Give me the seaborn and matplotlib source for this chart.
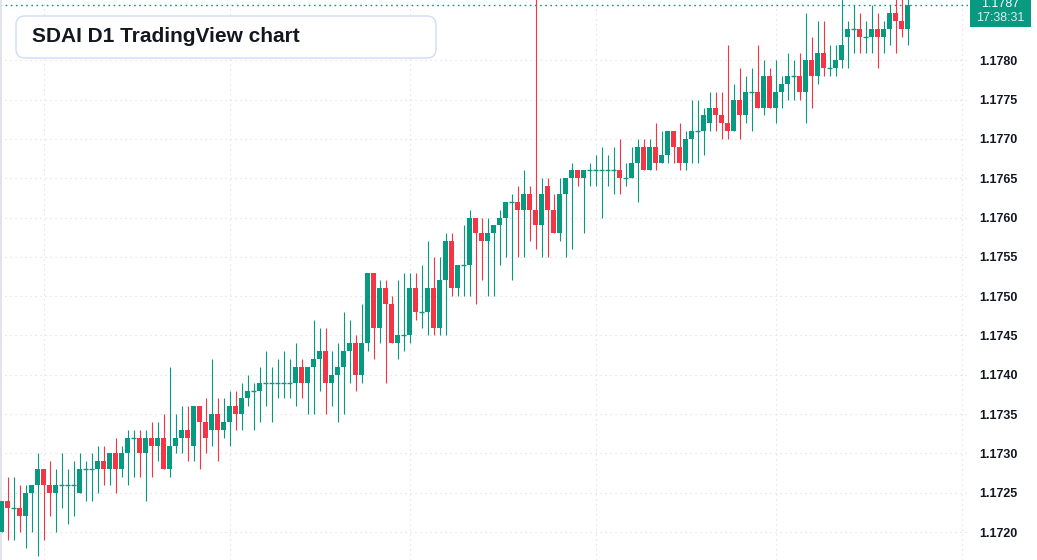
import numpy as np
import pandas as pd
import seaborn as sns
import matplotlib.pyplot as plt
from matplotlib.patches import FancyBboxPatch, Rectangle
from matplotlib.transforms import IdentityTransform

# daily candles, prices in pips (price * 10000)
open_pips = [
    11720, 11724, 11723, 11723, 11722, 11725, 11726, 11728, 11726, 11725,
    11726, 11726, 11726, 11725, 11728, 11728, 11728, 11729, 11728, 11730,
    11728, 11730, 11732, 11732, 11730, 11732, 11731, 11732, 11728, 11731,
    11732, 11733, 11731, 11736, 11734, 11733, 11735, 11733, 11734, 11736,
    11735, 11737, 11738, 11738, 11739, 11739, 11739, 11739, 11739, 11739,
    11741, 11739, 11741, 11742, 11743, 11739, 11740, 11741, 11743, 11744,
    11740, 11744, 11753, 11746, 11751, 11749, 11744, 11745, 11745, 11751,
    11748, 11748, 11751, 11746, 11752, 11757, 11751, 11754, 11754, 11760,
    11758, 11757, 11758, 11759, 11760, 11762, 11762, 11761, 11763, 11761,
    11759, 11764, 11761, 11758, 11763, 11765, 11766, 11765, 11766, 11766,
    11766, 11766, 11766, 11766, 11765, 11765, 11767, 11769, 11766, 11769,
    11767, 11768, 11771, 11769, 11767, 11770, 11771, 11771, 11772, 11774,
    11773, 11772, 11771, 11775, 11773, 11776, 11776, 11774, 11778, 11774,
    11776, 11777, 11778, 11778, 11776, 11780, 11778, 11781, 11779, 11779,
    11780, 11783, 11784, 11784, 11783, 11783, 11784, 11783, 11784, 11786,
    11785, 11784,
]
high_pips = [
    11724, 11727, 11727, 11726, 11726, 11726, 11730, 11728, 11729, 11728,
    11730, 11728, 11729, 11730, 11729, 11730, 11731, 11731, 11730, 11732,
    11731, 11733, 11733, 11733, 11733, 11734, 11734, 11735, 11741, 11735,
    11736, 11736, 11736, 11736, 11737, 11742, 11737, 11737, 11738, 11738,
    11739, 11740, 11739, 11741, 11743, 11741, 11742, 11743, 11742, 11744,
    11742, 11741, 11747, 11746, 11746, 11743, 11744, 11748, 11747, 11745,
    11749, 11753, 11753, 11752, 11752, 11750, 11752, 11753, 11753, 11753,
    11754, 11757, 11755, 11755, 11758, 11758, 11754, 11759, 11761, 11760,
    11760, 11760, 11759, 11761, 11762, 11763, 11764, 11766, 11764, 11800,
    11765, 11765, 11763, 11765, 11765, 11767, 11766, 11766, 11767, 11768,
    11769, 11768, 11769, 11770, 11767, 11769, 11770, 11770, 11770, 11772,
    11771, 11771, 11771, 11772, 11771, 11775, 11775, 11774, 11776, 11776,
    11776, 11782, 11777, 11779, 11778, 11779, 11782, 11780, 11779, 11780,
    11778, 11781, 11780, 11781, 11786, 11783, 11785, 11785, 11782, 11782,
    11790, 11785, 11787, 11786, 11785, 11787, 11786, 11785, 11787, 11790,
    11790, 11790,
]
low_pips = [
    11720, 11719, 11719, 11720, 11718, 11720, 11717, 11719, 11722, 11720,
    11723, 11721, 11722, 11725, 11724, 11724, 11725, 11726, 11726, 11725,
    11727, 11726, 11727, 11727, 11724, 11727, 11729, 11728, 11727, 11730,
    11730, 11729, 11729, 11728, 11730, 11731, 11729, 11732, 11731, 11733,
    11733, 11736, 11733, 11734, 11736, 11734, 11737, 11737, 11737, 11736,
    11737, 11735, 11735, 11738, 11735, 11736, 11734, 11735, 11739, 11738,
    11739, 11743, 11742, 11744, 11739, 11744, 11742, 11743, 11744, 11747,
    11746, 11745, 11745, 11745, 11745, 11750, 11750, 11750, 11750, 11749,
    11752, 11750, 11750, 11754, 11755, 11752, 11755, 11755, 11757, 11756,
    11755, 11755, 11758, 11757, 11755, 11756, 11764, 11758, 11764, 11764,
    11760, 11764, 11763, 11763, 11764, 11765, 11762, 11766, 11766, 11766,
    11767, 11767, 11767, 11766, 11766, 11767, 11767, 11768, 11771, 11771,
    11770, 11770, 11771, 11770, 11772, 11771, 11774, 11773, 11774, 11772,
    11774, 11775, 11775, 11775, 11772, 11774, 11777, 11778, 11778, 11778,
    11779, 11779, 11781, 11781, 11781, 11781, 11779, 11781, 11782, 11781,
    11783, 11782,
]
close_pips = [
    11724, 11723, 11723, 11722, 11725, 11726, 11728, 11726, 11725, 11726,
    11726, 11726, 11726, 11728, 11728, 11728, 11729, 11728, 11730, 11728,
    11730, 11732, 11732, 11730, 11732, 11731, 11732, 11728, 11731, 11732,
    11733, 11732, 11736, 11734, 11732, 11735, 11733, 11734, 11736, 11735,
    11737, 11738, 11738, 11739, 11739, 11739, 11739, 11739, 11739, 11741,
    11739, 11741, 11742, 11743, 11739, 11740, 11741, 11743, 11744, 11740,
    11744, 11753, 11746, 11751, 11749, 11744, 11745, 11745, 11751, 11748,
    11748, 11751, 11746, 11752, 11757, 11751, 11754, 11754, 11760, 11758,
    11757, 11758, 11759, 11760, 11762, 11762, 11761, 11763, 11761, 11759,
    11763, 11761, 11758, 11763, 11765, 11766, 11765, 11766, 11766, 11766,
    11766, 11766, 11766, 11765, 11765, 11767, 11769, 11766, 11769, 11767,
    11768, 11771, 11769, 11767, 11770, 11771, 11771, 11773, 11774, 11773,
    11772, 11771, 11775, 11773, 11776, 11776, 11774, 11778, 11774, 11776,
    11777, 11778, 11778, 11776, 11780, 11778, 11781, 11779, 11779, 11780,
    11782, 11784, 11784, 11783, 11783, 11784, 11783, 11784, 11786, 11785,
    11784, 11787,
]

month_starts = [7, 38, 68, 99, 129, 160]   # vertical grid lines (bar index)
price_ticks = [1.1720, 1.1725, 1.1730, 1.1735, 1.1740, 1.1745, 1.1750,
               1.1755, 1.1760, 1.1765, 1.1770, 1.1775, 1.1780]
last_price = 1.1787
last_time = "17:38:31"
title = "SDAI D1 TradingView chart"

df = pd.DataFrame({
    'open': np.array(open_pips) / 10000,
    'high': np.array(high_pips) / 10000,
    'low': np.array(low_pips) / 10000,
    'close': np.array(close_pips) / 10000,
})
df['bar'] = np.arange(len(df))
df['up'] = df['close'] >= df['open']

up_c = '#089981'
dn_c = '#F23645'
grid_c = '#d8dbe2'

sns.set_theme(style='white')
plt.rcParams['font.family'] = ['Liberation Sans', 'DejaVu Sans']

W, H = 1037, 560
fig = plt.figure(figsize=(W / 100, H / 100), dpi=100)
ax = fig.add_axes([0, 0, 968 / W, 1])

colors = np.where(df['up'], up_c, dn_c)

# wicks
ax.vlines(df['bar'], df['low'], df['high'], colors=colors, linewidth=0.8, zorder=3)
# bodies
body = (df['close'] - df['open']).abs()
bottom = df[['open', 'close']].min(axis=1)
ax.bar(df['bar'], body, bottom=bottom, width=5 / 6, color=colors, linewidth=0, zorder=4)
# doji candles
doji = df[body < 1e-9]
ax.hlines(doji['open'], doji['bar'] - 0.42, doji['bar'] + 0.42, colors=up_c, linewidth=1.0, zorder=4)

# last price line
ax.axhline(last_price, color=up_c, linestyle=(0, (1.2, 2.5)), linewidth=1.0, zorder=2)

# one bar = 6 px, bar centres on pixel centres
ax.set_xlim(-0.25, 161.083)
ax.set_ylim(1.171644, 1.178768)

ax.set_xticks(month_starts)
ax.set_yticks(price_ticks)
ax.set_yticklabels([f'{p:.4f}' for p in price_ticks])
ax.yaxis.tick_right()
ax.tick_params(axis='x', labelbottom=False, length=0)
ax.tick_params(axis='y', length=0, pad=8, labelsize=9, labelcolor='#131722')
for lbl in ax.get_yticklabels():
    lbl.set_fontweight('bold')
ax.grid(True, linestyle=(0, (1, 3.5)), color=grid_c, linewidth=0.8)

for side in ['top', 'right', 'bottom']:
    ax.spines[side].set_visible(False)
ax.spines['left'].set_color('#e0e3eb')
ax.spines['left'].set_linewidth(2)

# last price label on the scale
fig.patches.append(Rectangle((970, H - 27), 61, 40, transform=IdentityTransform(),
                             facecolor=up_c, edgecolor='none'))
fig.text(1000 / W, 1 - 4 / H, f'{last_price:.4f}', ha='center', va='center',
         fontsize=9, color='white')
fig.text(1000 / W, 1 - 18 / H, last_time, ha='center', va='center',
         fontsize=9, color='#d9f0eb')

# title box
fig.patches.append(FancyBboxPatch((16, H - 58), 420, 42, transform=IdentityTransform(),
                                  boxstyle='round,pad=0,rounding_size=9',
                                  facecolor='white', edgecolor='#cfdcf3', linewidth=1.0))
fig.text(32 / W, 1 - 37 / H, title, ha='left', va='center', fontsize=15,
         fontweight='bold', color='#131722')

fig.savefig('out.png', dpi=100)
